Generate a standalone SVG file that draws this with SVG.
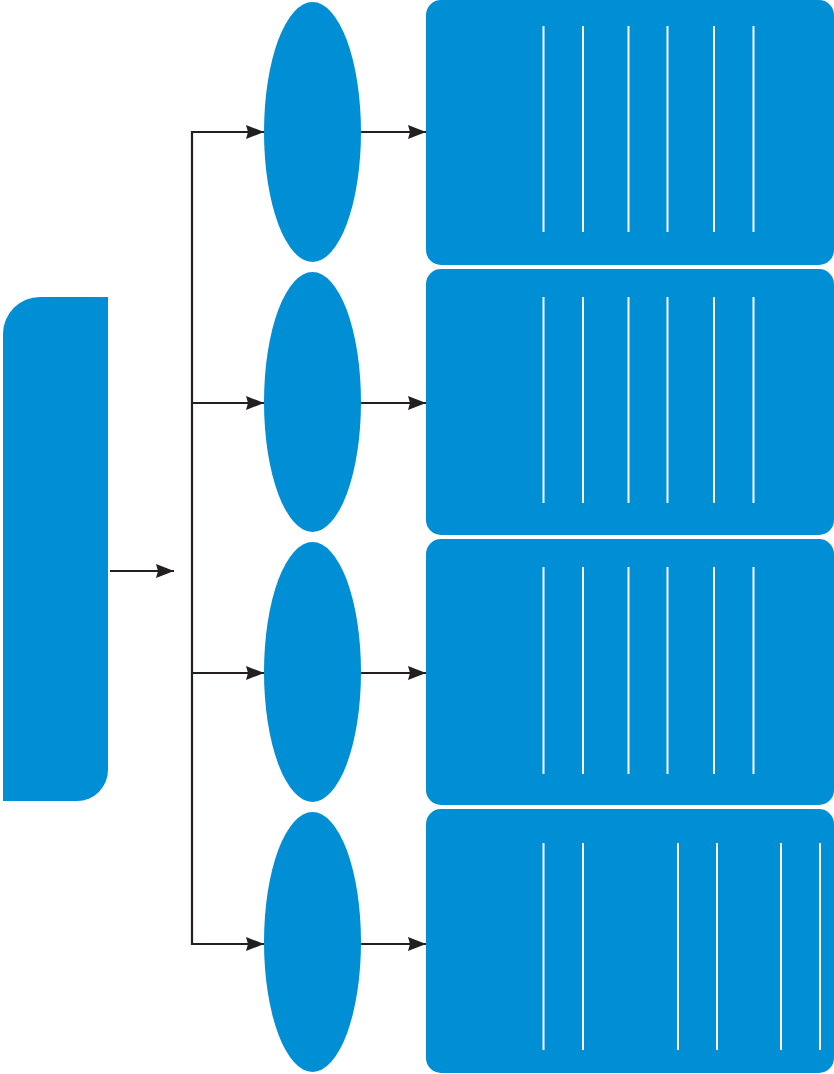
<svg xmlns="http://www.w3.org/2000/svg" width="834" height="1074" viewBox="0 0 834 1074">
<style>
.b{fill:#008fd5;}
.c{fill:none;stroke:#231f20;stroke-width:2.2;}
.a{marker-end:url(#ah);}
.w{stroke:#ffffff;stroke-width:2;}
</style>
<defs>
<marker id="ah" markerUnits="userSpaceOnUse" markerWidth="22" markerHeight="18" viewBox="-20 -9 22 18" refX="0" refY="0" orient="auto">
<path d="M0,0 L-18,-7 L-16,0 L-18,7 Z" fill="#231f20"/>
</marker>
</defs>
<rect width="834" height="1074" fill="#ffffff"/>
<g id="source">
<path class="b" d="M3,334 A37,37 0 0 1 40,297 H108 V770 A31,31 0 0 1 77,801 H3 Z"/>
</g>
<g id="e1"><ellipse class="b" cx="312.5" cy="132" rx="48.5" ry="130"/></g>
<g id="e2"><ellipse class="b" cx="312.5" cy="402" rx="48.5" ry="130"/></g>
<g id="e3"><ellipse class="b" cx="312.5" cy="672" rx="48.5" ry="130"/></g>
<g id="e4"><ellipse class="b" cx="312.5" cy="942" rx="48.5" ry="130"/></g>
<g id="r1">
<rect class="b" x="426" y="0" width="408" height="265" rx="15"/>
<g class="w"><line x1="543.5" y1="26" x2="543.5" y2="232"/><line x1="583" y1="26" x2="583" y2="232"/><line x1="628.5" y1="26" x2="628.5" y2="232"/><line x1="667.5" y1="26" x2="667.5" y2="232"/><line x1="714" y1="26" x2="714" y2="232"/><line x1="753.5" y1="26" x2="753.5" y2="232"/></g>
</g>
<g id="r2">
<rect class="b" x="426" y="269" width="408" height="266" rx="15"/>
<g class="w"><line x1="543.5" y1="297" x2="543.5" y2="503"/><line x1="583" y1="297" x2="583" y2="503"/><line x1="628.5" y1="297" x2="628.5" y2="503"/><line x1="667.5" y1="297" x2="667.5" y2="503"/><line x1="714" y1="297" x2="714" y2="503"/><line x1="753.5" y1="297" x2="753.5" y2="503"/></g>
</g>
<g id="r3">
<rect class="b" x="426" y="539" width="408" height="266" rx="15"/>
<g class="w"><line x1="543.5" y1="567" x2="543.5" y2="774"/><line x1="583" y1="567" x2="583" y2="774"/><line x1="628.5" y1="567" x2="628.5" y2="774"/><line x1="667.5" y1="567" x2="667.5" y2="774"/><line x1="714" y1="567" x2="714" y2="774"/><line x1="753.5" y1="567" x2="753.5" y2="774"/></g>
</g>
<g id="r4">
<rect class="b" x="426" y="809" width="408" height="264" rx="15"/>
<g class="w"><line x1="543.5" y1="843" x2="543.5" y2="1050"/><line x1="583" y1="843" x2="583" y2="1050"/><line x1="678" y1="843" x2="678" y2="1050"/><line x1="717" y1="843" x2="717" y2="1050"/><line x1="781" y1="843" x2="781" y2="1050"/><line x1="820" y1="843" x2="820" y2="1050"/></g>
</g>
<g id="connectors">
<line class="c a" x1="110" y1="571" x2="174" y2="571"/>
<path class="c" d="M250,132 H192 V944 H250"/>
<line class="c a" x1="192" y1="132" x2="264" y2="132"/>
<line class="c a" x1="192" y1="403" x2="264" y2="403"/>
<line class="c a" x1="192" y1="673" x2="264" y2="673"/>
<line class="c a" x1="192" y1="944" x2="264" y2="944"/>
<line class="c a" x1="361" y1="132" x2="426" y2="132"/>
<line class="c a" x1="361" y1="403" x2="426" y2="403"/>
<line class="c a" x1="361" y1="673" x2="426" y2="673"/>
<line class="c a" x1="361" y1="944" x2="426" y2="944"/>
</g>
</svg>
